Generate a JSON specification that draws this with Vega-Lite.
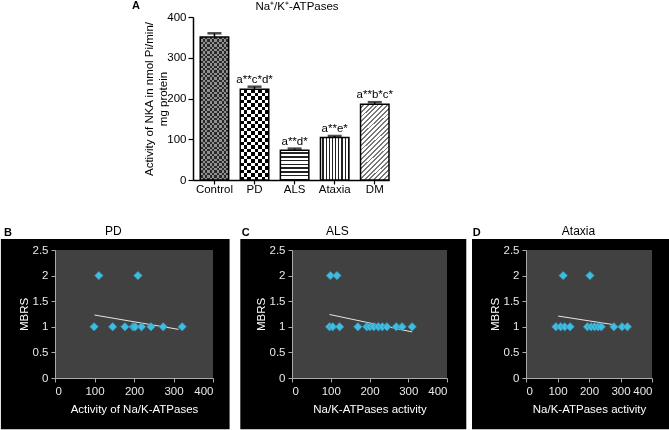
{
"$schema": "https://vega.github.io/schema/vega-lite/v6.json",
"padding": 0,
"autosize": {"type": "pad"},
"bounds": "flush",
"columns": 3,
"spacing": {"row": 70, "column": 79},
"align": "each",
"config": {
  "font": "Liberation Sans",
  "view": {"stroke": null},
  "axis": {"zindex": 1, "grid": false, "labelOverlap": false},
  "title": {"fontWeight": "normal", "fontSize": 12, "color": "#000"}
},
"datasets": {
  "bars": [
    {"group": "Control", "mean": 351, "upper": 360, "label": ""},
    {"group": "PD", "mean": 223, "upper": 229, "label": "a**c*d*"},
    {"group": "ALS", "mean": 73, "upper": 77, "label": "a**d*"},
    {"group": "Ataxia", "mean": 104, "upper": 108, "label": "a**e*"},
    {"group": "DM", "mean": 186, "upper": 191, "label": "a**b*c*"}
  ],
  "pd": [
    {"activity": 111, "mbrs": 2}, {"activity": 210, "mbrs": 2},
    {"activity": 99, "mbrs": 1}, {"activity": 146, "mbrs": 1}, {"activity": 177, "mbrs": 1},
    {"activity": 198, "mbrs": 1}, {"activity": 203, "mbrs": 1}, {"activity": 219, "mbrs": 1},
    {"activity": 243, "mbrs": 1}, {"activity": 274, "mbrs": 1}, {"activity": 322, "mbrs": 1}
  ],
  "als": [
    {"activity": 99, "mbrs": 2}, {"activity": 116, "mbrs": 2},
    {"activity": 97, "mbrs": 1}, {"activity": 105, "mbrs": 1}, {"activity": 123, "mbrs": 1},
    {"activity": 170, "mbrs": 1}, {"activity": 193, "mbrs": 1}, {"activity": 201, "mbrs": 1},
    {"activity": 211, "mbrs": 1}, {"activity": 223, "mbrs": 1}, {"activity": 233, "mbrs": 1},
    {"activity": 245, "mbrs": 1}, {"activity": 269, "mbrs": 1}, {"activity": 284, "mbrs": 1},
    {"activity": 310, "mbrs": 1}
  ],
  "ataxia": [
    {"activity": 118, "mbrs": 2}, {"activity": 203, "mbrs": 2},
    {"activity": 95, "mbrs": 1}, {"activity": 110, "mbrs": 1}, {"activity": 123, "mbrs": 1},
    {"activity": 140, "mbrs": 1}, {"activity": 195, "mbrs": 1}, {"activity": 207, "mbrs": 1},
    {"activity": 218, "mbrs": 1}, {"activity": 229, "mbrs": 1}, {"activity": 239, "mbrs": 1},
    {"activity": 279, "mbrs": 1}, {"activity": 305, "mbrs": 1}, {"activity": 322, "mbrs": 1}
  ],
  "trends": [
    {"panel": "PD", "activity": 100, "mbrs": 1.23}, {"panel": "PD", "activity": 313, "mbrs": 0.95},
    {"panel": "ALS", "activity": 97, "mbrs": 1.24}, {"panel": "ALS", "activity": 310, "mbrs": 0.9},
    {"panel": "Ataxia", "activity": 102, "mbrs": 1.21}, {"panel": "Ataxia", "activity": 280, "mbrs": 1.04}
  ]
},
"concat": [
  {
    "width": 158, "height": 163,
    "data": {"name": "bars"},
    "title": {"text": "Na⁺/K⁺-ATPases", "frame": "group", "anchor": "middle", "dx": 163, "offset": -1, "fontSize": 11.5},
    "encoding": {
      "x": {"field": "group", "type": "nominal", "sort": null,
        "scale": {"range": [138, 334], "paddingInner": 0.29, "paddingOuter": 0.09, "align": 1},
        "axis": {"title": null, "labelAngle": 0, "labelFontSize": 11.5, "labelColor": "#000", "domainColor": "#000", "domainWidth": 1.5, "tickColor": "#000", "tickSize": 4, "tickWidth": 1.2, "labelPadding": -1}},
      "y": {"field": "mean", "type": "quantitative", "scale": {"domain": [0, 400]},
        "axis": {"offset": -138, "values": [0, 100, 200, 300, 400], "title": ["Activity of NKA in nmol Pi/min/", "mg protein"], "titleFontSize": 11.5, "titleFontWeight": "normal", "titleColor": "#000", "titlePadding": -2, "titleLineHeight": 14, "labelFontSize": 11.5, "labelColor": "#000", "domainColor": "#000", "domainWidth": 1.5, "tickColor": "#000", "tickSize": 5, "tickWidth": 1.2, "labelPadding": 2}}
    },
    "layer": [
      {"transform": [{"filter": "datum.group === 'Control'"}], "mark": {"type": "bar", "fill": "#2a2a2a"}},
      {"transform": [{"filter": "datum.group === 'Control'"}], "mark": {"type": "bar", "blend": "difference", "fill": {"gradient": "linear", "x1": 0, "y1": 0, "x2": 1, "y2": 0, "stops": [
        {"offset":0,"color":"#bbb"},{"offset":0.0833,"color":"#bbb"},{"offset":0.0833,"color":"transparent"},{"offset":0.1667,"color":"transparent"},{"offset":0.1667,"color":"#bbb"},{"offset":0.25,"color":"#bbb"},{"offset":0.25,"color":"transparent"},{"offset":0.3333,"color":"transparent"},{"offset":0.3333,"color":"#bbb"},{"offset":0.4167,"color":"#bbb"},{"offset":0.4167,"color":"transparent"},{"offset":0.5,"color":"transparent"},{"offset":0.5,"color":"#bbb"},{"offset":0.5833,"color":"#bbb"},{"offset":0.5833,"color":"transparent"},{"offset":0.6667,"color":"transparent"},{"offset":0.6667,"color":"#bbb"},{"offset":0.75,"color":"#bbb"},{"offset":0.75,"color":"transparent"},{"offset":0.8333,"color":"transparent"},{"offset":0.8333,"color":"#bbb"},{"offset":0.9167,"color":"#bbb"},{"offset":0.9167,"color":"transparent"},{"offset":1,"color":"transparent"}]}}},
      {"transform": [{"filter": "datum.group === 'Control'"}], "mark": {"type": "bar", "blend": "difference", "fill": {"gradient": "linear", "x1": 0, "y1": 0, "x2": 0, "y2": 1, "stops": [
        {"offset":0,"color":"#bbb"},{"offset":0.0167,"color":"#bbb"},{"offset":0.0167,"color":"transparent"},{"offset":0.0333,"color":"transparent"},{"offset":0.0333,"color":"#bbb"},{"offset":0.05,"color":"#bbb"},{"offset":0.05,"color":"transparent"},{"offset":0.0667,"color":"transparent"},{"offset":0.0667,"color":"#bbb"},{"offset":0.0833,"color":"#bbb"},{"offset":0.0833,"color":"transparent"},{"offset":0.1,"color":"transparent"},{"offset":0.1,"color":"#bbb"},{"offset":0.1167,"color":"#bbb"},{"offset":0.1167,"color":"transparent"},{"offset":0.1333,"color":"transparent"},{"offset":0.1333,"color":"#bbb"},{"offset":0.15,"color":"#bbb"},{"offset":0.15,"color":"transparent"},{"offset":0.1667,"color":"transparent"},{"offset":0.1667,"color":"#bbb"},{"offset":0.1833,"color":"#bbb"},{"offset":0.1833,"color":"transparent"},{"offset":0.2,"color":"transparent"},{"offset":0.2,"color":"#bbb"},{"offset":0.2167,"color":"#bbb"},{"offset":0.2167,"color":"transparent"},{"offset":0.2333,"color":"transparent"},{"offset":0.2333,"color":"#bbb"},{"offset":0.25,"color":"#bbb"},{"offset":0.25,"color":"transparent"},{"offset":0.2667,"color":"transparent"},{"offset":0.2667,"color":"#bbb"},{"offset":0.2833,"color":"#bbb"},{"offset":0.2833,"color":"transparent"},{"offset":0.3,"color":"transparent"},{"offset":0.3,"color":"#bbb"},{"offset":0.3167,"color":"#bbb"},{"offset":0.3167,"color":"transparent"},{"offset":0.3333,"color":"transparent"},{"offset":0.3333,"color":"#bbb"},{"offset":0.35,"color":"#bbb"},{"offset":0.35,"color":"transparent"},{"offset":0.3667,"color":"transparent"},{"offset":0.3667,"color":"#bbb"},{"offset":0.3833,"color":"#bbb"},{"offset":0.3833,"color":"transparent"},{"offset":0.4,"color":"transparent"},{"offset":0.4,"color":"#bbb"},{"offset":0.4167,"color":"#bbb"},{"offset":0.4167,"color":"transparent"},{"offset":0.4333,"color":"transparent"},{"offset":0.4333,"color":"#bbb"},{"offset":0.45,"color":"#bbb"},{"offset":0.45,"color":"transparent"},{"offset":0.4667,"color":"transparent"},{"offset":0.4667,"color":"#bbb"},{"offset":0.4833,"color":"#bbb"},{"offset":0.4833,"color":"transparent"},{"offset":0.5,"color":"transparent"},{"offset":0.5,"color":"#bbb"},{"offset":0.5167,"color":"#bbb"},{"offset":0.5167,"color":"transparent"},{"offset":0.5333,"color":"transparent"},{"offset":0.5333,"color":"#bbb"},{"offset":0.55,"color":"#bbb"},{"offset":0.55,"color":"transparent"},{"offset":0.5667,"color":"transparent"},{"offset":0.5667,"color":"#bbb"},{"offset":0.5833,"color":"#bbb"},{"offset":0.5833,"color":"transparent"},{"offset":0.6,"color":"transparent"},{"offset":0.6,"color":"#bbb"},{"offset":0.6167,"color":"#bbb"},{"offset":0.6167,"color":"transparent"},{"offset":0.6333,"color":"transparent"},{"offset":0.6333,"color":"#bbb"},{"offset":0.65,"color":"#bbb"},{"offset":0.65,"color":"transparent"},{"offset":0.6667,"color":"transparent"},{"offset":0.6667,"color":"#bbb"},{"offset":0.6833,"color":"#bbb"},{"offset":0.6833,"color":"transparent"},{"offset":0.7,"color":"transparent"},{"offset":0.7,"color":"#bbb"},{"offset":0.7167,"color":"#bbb"},{"offset":0.7167,"color":"transparent"},{"offset":0.7333,"color":"transparent"},{"offset":0.7333,"color":"#bbb"},{"offset":0.75,"color":"#bbb"},{"offset":0.75,"color":"transparent"},{"offset":0.7667,"color":"transparent"},{"offset":0.7667,"color":"#bbb"},{"offset":0.7833,"color":"#bbb"},{"offset":0.7833,"color":"transparent"},{"offset":0.8,"color":"transparent"},{"offset":0.8,"color":"#bbb"},{"offset":0.8167,"color":"#bbb"},{"offset":0.8167,"color":"transparent"},{"offset":0.8333,"color":"transparent"},{"offset":0.8333,"color":"#bbb"},{"offset":0.85,"color":"#bbb"},{"offset":0.85,"color":"transparent"},{"offset":0.8667,"color":"transparent"},{"offset":0.8667,"color":"#bbb"},{"offset":0.8833,"color":"#bbb"},{"offset":0.8833,"color":"transparent"},{"offset":0.9,"color":"transparent"},{"offset":0.9,"color":"#bbb"},{"offset":0.9167,"color":"#bbb"},{"offset":0.9167,"color":"transparent"},{"offset":0.9333,"color":"transparent"},{"offset":0.9333,"color":"#bbb"},{"offset":0.95,"color":"#bbb"},{"offset":0.95,"color":"transparent"},{"offset":0.9667,"color":"transparent"},{"offset":0.9667,"color":"#bbb"},{"offset":0.9833,"color":"#bbb"},{"offset":0.9833,"color":"transparent"},{"offset":1,"color":"transparent"}]}}},
      {"transform": [{"filter": "datum.group === 'PD'"}], "mark": {"type": "bar", "fill": "#fff"}},
      {"transform": [{"filter": "datum.group === 'PD'"}], "mark": {"type": "bar", "blend": "difference", "fill": {"gradient": "linear", "x1": 0, "y1": 0, "x2": 1, "y2": 0, "stops": [
        {"offset":0,"color":"#fff"},{"offset":0.125,"color":"#fff"},{"offset":0.125,"color":"transparent"},{"offset":0.25,"color":"transparent"},{"offset":0.25,"color":"#fff"},{"offset":0.375,"color":"#fff"},{"offset":0.375,"color":"transparent"},{"offset":0.5,"color":"transparent"},{"offset":0.5,"color":"#fff"},{"offset":0.625,"color":"#fff"},{"offset":0.625,"color":"transparent"},{"offset":0.75,"color":"transparent"},{"offset":0.75,"color":"#fff"},{"offset":0.875,"color":"#fff"},{"offset":0.875,"color":"transparent"},{"offset":1,"color":"transparent"}]}}},
      {"transform": [{"filter": "datum.group === 'PD'"}], "mark": {"type": "bar", "blend": "difference", "fill": {"gradient": "linear", "x1": 0, "y1": 0, "x2": 0, "y2": 1, "stops": [
        {"offset":0,"color":"#fff"},{"offset":0.0385,"color":"#fff"},{"offset":0.0385,"color":"transparent"},{"offset":0.0769,"color":"transparent"},{"offset":0.0769,"color":"#fff"},{"offset":0.1154,"color":"#fff"},{"offset":0.1154,"color":"transparent"},{"offset":0.1538,"color":"transparent"},{"offset":0.1538,"color":"#fff"},{"offset":0.1923,"color":"#fff"},{"offset":0.1923,"color":"transparent"},{"offset":0.2308,"color":"transparent"},{"offset":0.2308,"color":"#fff"},{"offset":0.2692,"color":"#fff"},{"offset":0.2692,"color":"transparent"},{"offset":0.3077,"color":"transparent"},{"offset":0.3077,"color":"#fff"},{"offset":0.3462,"color":"#fff"},{"offset":0.3462,"color":"transparent"},{"offset":0.3846,"color":"transparent"},{"offset":0.3846,"color":"#fff"},{"offset":0.4231,"color":"#fff"},{"offset":0.4231,"color":"transparent"},{"offset":0.4615,"color":"transparent"},{"offset":0.4615,"color":"#fff"},{"offset":0.5,"color":"#fff"},{"offset":0.5,"color":"transparent"},{"offset":0.5385,"color":"transparent"},{"offset":0.5385,"color":"#fff"},{"offset":0.5769,"color":"#fff"},{"offset":0.5769,"color":"transparent"},{"offset":0.6154,"color":"transparent"},{"offset":0.6154,"color":"#fff"},{"offset":0.6538,"color":"#fff"},{"offset":0.6538,"color":"transparent"},{"offset":0.6923,"color":"transparent"},{"offset":0.6923,"color":"#fff"},{"offset":0.7308,"color":"#fff"},{"offset":0.7308,"color":"transparent"},{"offset":0.7692,"color":"transparent"},{"offset":0.7692,"color":"#fff"},{"offset":0.8077,"color":"#fff"},{"offset":0.8077,"color":"transparent"},{"offset":0.8462,"color":"transparent"},{"offset":0.8462,"color":"#fff"},{"offset":0.8846,"color":"#fff"},{"offset":0.8846,"color":"transparent"},{"offset":0.9231,"color":"transparent"},{"offset":0.9231,"color":"#fff"},{"offset":0.9615,"color":"#fff"},{"offset":0.9615,"color":"transparent"},{"offset":1,"color":"transparent"}]}}},
      {"transform": [{"filter": "datum.group === 'ALS'"}], "mark": {"type": "bar", "fill": {"gradient": "linear", "x1": 0, "y1": 0, "x2": 0, "y2": 1, "stops": [
        {"offset":0,"color":"#fff"},{"offset":0.075,"color":"#fff"},{"offset":0.075,"color":"#222"},{"offset":0.125,"color":"#222"},{"offset":0.125,"color":"#fff"},{"offset":0.2,"color":"#fff"},{"offset":0.2,"color":"#222"},{"offset":0.25,"color":"#222"},{"offset":0.25,"color":"#fff"},{"offset":0.325,"color":"#fff"},{"offset":0.325,"color":"#222"},{"offset":0.375,"color":"#222"},{"offset":0.375,"color":"#fff"},{"offset":0.45,"color":"#fff"},{"offset":0.45,"color":"#222"},{"offset":0.5,"color":"#222"},{"offset":0.5,"color":"#fff"},{"offset":0.575,"color":"#fff"},{"offset":0.575,"color":"#222"},{"offset":0.625,"color":"#222"},{"offset":0.625,"color":"#fff"},{"offset":0.7,"color":"#fff"},{"offset":0.7,"color":"#222"},{"offset":0.75,"color":"#222"},{"offset":0.75,"color":"#fff"},{"offset":0.825,"color":"#fff"},{"offset":0.825,"color":"#222"},{"offset":0.875,"color":"#222"},{"offset":0.875,"color":"#fff"},{"offset":0.95,"color":"#fff"},{"offset":0.95,"color":"#222"},{"offset":1,"color":"#222"}]}}},
      {"transform": [{"filter": "datum.group === 'Ataxia'"}], "mark": {"type": "bar", "fill": {"gradient": "linear", "x1": 0, "y1": 0, "x2": 1, "y2": 0, "stops": [
        {"offset":0,"color":"#fff"},{"offset":0.07,"color":"#fff"},{"offset":0.07,"color":"#222"},{"offset":0.1111,"color":"#222"},{"offset":0.1111,"color":"#fff"},{"offset":0.1811,"color":"#fff"},{"offset":0.1811,"color":"#222"},{"offset":0.2222,"color":"#222"},{"offset":0.2222,"color":"#fff"},{"offset":0.2922,"color":"#fff"},{"offset":0.2922,"color":"#222"},{"offset":0.3333,"color":"#222"},{"offset":0.3333,"color":"#fff"},{"offset":0.4033,"color":"#fff"},{"offset":0.4033,"color":"#222"},{"offset":0.4444,"color":"#222"},{"offset":0.4444,"color":"#fff"},{"offset":0.5144,"color":"#fff"},{"offset":0.5144,"color":"#222"},{"offset":0.5556,"color":"#222"},{"offset":0.5556,"color":"#fff"},{"offset":0.6256,"color":"#fff"},{"offset":0.6256,"color":"#222"},{"offset":0.6667,"color":"#222"},{"offset":0.6667,"color":"#fff"},{"offset":0.7367,"color":"#fff"},{"offset":0.7367,"color":"#222"},{"offset":0.7778,"color":"#222"},{"offset":0.7778,"color":"#fff"},{"offset":0.8478,"color":"#fff"},{"offset":0.8478,"color":"#222"},{"offset":0.8889,"color":"#222"},{"offset":0.8889,"color":"#fff"},{"offset":0.9589,"color":"#fff"},{"offset":0.9589,"color":"#222"},{"offset":1,"color":"#222"}]}}},
      {"transform": [{"filter": "datum.group === 'DM'"}], "mark": {"type": "bar", "fill": {"gradient": "linear", "x1": 0, "y1": 0, "x2": 0.444, "y2": 1.205, "stops": [
        {"offset":0,"color":"#fff"},{"offset":0.0273,"color":"#fff"},{"offset":0.0273,"color":"#777"},{"offset":0.0455,"color":"#777"},{"offset":0.0455,"color":"#fff"},{"offset":0.0727,"color":"#fff"},{"offset":0.0727,"color":"#777"},{"offset":0.0909,"color":"#777"},{"offset":0.0909,"color":"#fff"},{"offset":0.1182,"color":"#fff"},{"offset":0.1182,"color":"#777"},{"offset":0.1364,"color":"#777"},{"offset":0.1364,"color":"#fff"},{"offset":0.1636,"color":"#fff"},{"offset":0.1636,"color":"#777"},{"offset":0.1818,"color":"#777"},{"offset":0.1818,"color":"#fff"},{"offset":0.2091,"color":"#fff"},{"offset":0.2091,"color":"#777"},{"offset":0.2273,"color":"#777"},{"offset":0.2273,"color":"#fff"},{"offset":0.2545,"color":"#fff"},{"offset":0.2545,"color":"#777"},{"offset":0.2727,"color":"#777"},{"offset":0.2727,"color":"#fff"},{"offset":0.3,"color":"#fff"},{"offset":0.3,"color":"#777"},{"offset":0.3182,"color":"#777"},{"offset":0.3182,"color":"#fff"},{"offset":0.3455,"color":"#fff"},{"offset":0.3455,"color":"#777"},{"offset":0.3636,"color":"#777"},{"offset":0.3636,"color":"#fff"},{"offset":0.3909,"color":"#fff"},{"offset":0.3909,"color":"#777"},{"offset":0.4091,"color":"#777"},{"offset":0.4091,"color":"#fff"},{"offset":0.4364,"color":"#fff"},{"offset":0.4364,"color":"#777"},{"offset":0.4545,"color":"#777"},{"offset":0.4545,"color":"#fff"},{"offset":0.4818,"color":"#fff"},{"offset":0.4818,"color":"#777"},{"offset":0.5,"color":"#777"},{"offset":0.5,"color":"#fff"},{"offset":0.5273,"color":"#fff"},{"offset":0.5273,"color":"#777"},{"offset":0.5455,"color":"#777"},{"offset":0.5455,"color":"#fff"},{"offset":0.5727,"color":"#fff"},{"offset":0.5727,"color":"#777"},{"offset":0.5909,"color":"#777"},{"offset":0.5909,"color":"#fff"},{"offset":0.6182,"color":"#fff"},{"offset":0.6182,"color":"#777"},{"offset":0.6364,"color":"#777"},{"offset":0.6364,"color":"#fff"},{"offset":0.6636,"color":"#fff"},{"offset":0.6636,"color":"#777"},{"offset":0.6818,"color":"#777"},{"offset":0.6818,"color":"#fff"},{"offset":0.7091,"color":"#fff"},{"offset":0.7091,"color":"#777"},{"offset":0.7273,"color":"#777"},{"offset":0.7273,"color":"#fff"},{"offset":0.7545,"color":"#fff"},{"offset":0.7545,"color":"#777"},{"offset":0.7727,"color":"#777"},{"offset":0.7727,"color":"#fff"},{"offset":0.8,"color":"#fff"},{"offset":0.8,"color":"#777"},{"offset":0.8182,"color":"#777"},{"offset":0.8182,"color":"#fff"},{"offset":0.8455,"color":"#fff"},{"offset":0.8455,"color":"#777"},{"offset":0.8636,"color":"#777"},{"offset":0.8636,"color":"#fff"},{"offset":0.8909,"color":"#fff"},{"offset":0.8909,"color":"#777"},{"offset":0.9091,"color":"#777"},{"offset":0.9091,"color":"#fff"},{"offset":0.9364,"color":"#fff"},{"offset":0.9364,"color":"#777"},{"offset":0.9545,"color":"#777"},{"offset":0.9545,"color":"#fff"},{"offset":0.9818,"color":"#fff"},{"offset":0.9818,"color":"#777"},{"offset":1,"color":"#777"}]}}},
      {"mark": {"type": "bar", "fillOpacity": 0, "stroke": "#000", "strokeWidth": 1.5}},
      {"mark": {"type": "rule", "stroke": "#000", "strokeWidth": 1.5}, "encoding": {"y": {"field": "mean", "type": "quantitative"}, "y2": {"field": "upper"}}},
      {"mark": {"type": "tick", "orient": "horizontal", "size": 14, "thickness": 2.5, "color": "#000"}, "encoding": {"y": {"field": "upper", "type": "quantitative"}}},
      {"mark": {"type": "text", "baseline": "alphabetic", "dy": -4, "fontSize": 11.5, "color": "#000"}, "encoding": {"y": {"field": "upper", "type": "quantitative"}, "text": {"field": "label"}}}
    ]
  },
  {
    "width": 155, "height": 10,
    "data": {"values": [{}]},
    "mark": {"type": "point", "opacity": 0},
    "title": {"text": "A", "anchor": "start", "frame": "group", "dx": -160, "offset": 6, "fontWeight": "bold", "fontSize": 11}
  },
  {
    "width": 126, "height": 10,
    "data": {"values": [{}]},
    "mark": {"type": "point", "opacity": 0}
  },
  {
    "width": 158, "height": 128,
    "title": {"text": "PD", "frame": "bounds", "anchor": "middle", "dx": -2, "offset": -11, "fontSize": 12},
    "layer": [
      {"data": {"values": [{}]}, "mark": {"type": "rect", "fill": "#000", "clip": false},
       "encoding": {
         "x": {"datum": -137, "type": "quantitative", "scale": {"domain": [0, 400], "nice": false, "zero": false}, "axis": {"title": "Activity of Na/K-ATPases", "zindex": 1, "values": [0, 100, 200, 300, 400], "labelOverlap": false, "labelColor": "#e8e8e8", "labelFontSize": 11.5, "domainColor": "#aaa", "tickColor": "#aaa", "tickSize": 4, "labelPadding": 3, "titleColor": "#fff", "titleFontSize": 11.5, "titleFontWeight": "normal", "titlePadding": 7}},
         "x2": {"datum": 442},
         "y": {"datum": 2.715, "type": "quantitative", "scale": {"domain": [0, 2.5], "nice": false, "zero": false}, "axis": {"title": "MBRS", "zindex": 1, "values": [0, 0.5, 1, 1.5, 2, 2.5], "format": "~g", "labelOverlap": false, "labelColor": "#e8e8e8", "labelFontSize": 11.5, "domainColor": "#aaa", "tickColor": "#aaa", "tickSize": 4, "labelPadding": 3, "titleColor": "#fff", "titleFontSize": 11.5, "titleFontWeight": "normal", "titlePadding": 3}},
         "y2": {"datum": -1.0}}},
      {"data": {"values": [{}]}, "mark": {"type": "rect", "fill": "#414141"},
       "encoding": {
         "x": {"datum": 0, "type": "quantitative", "axis": {"title": "Activity of Na/K-ATPases", "zindex": 1, "values": [0, 100, 200, 300, 400], "labelOverlap": false, "labelColor": "#e8e8e8", "labelFontSize": 11.5, "domainColor": "#aaa", "tickColor": "#aaa", "tickSize": 4, "labelPadding": 3, "titleColor": "#fff", "titleFontSize": 11.5, "titleFontWeight": "normal", "titlePadding": 7}},
         "x2": {"datum": 400},
         "y": {"datum": 0, "type": "quantitative", "axis": {"title": "MBRS", "zindex": 1, "values": [0, 0.5, 1, 1.5, 2, 2.5], "format": "~g", "labelOverlap": false, "labelColor": "#e8e8e8", "labelFontSize": 11.5, "domainColor": "#aaa", "tickColor": "#aaa", "tickSize": 4, "labelPadding": 3, "titleColor": "#fff", "titleFontSize": 11.5, "titleFontWeight": "normal", "titlePadding": 3}},
         "y2": {"datum": 2.5}}},
      {"data": {"name": "trends"}, "transform": [{"filter": "datum.panel === 'PD'"}], "mark": {"type": "line", "color": "#e6e6e6", "strokeWidth": 1},
       "encoding": {
         "x": {"field": "activity", "type": "quantitative", "axis": {"title": "Activity of Na/K-ATPases", "zindex": 1, "values": [0, 100, 200, 300, 400], "labelOverlap": false, "labelColor": "#e8e8e8", "labelFontSize": 11.5, "domainColor": "#aaa", "tickColor": "#aaa", "tickSize": 4, "labelPadding": 3, "titleColor": "#fff", "titleFontSize": 11.5, "titleFontWeight": "normal", "titlePadding": 7}},
         "y": {"field": "mbrs", "type": "quantitative", "axis": {"title": "MBRS", "zindex": 1, "values": [0, 0.5, 1, 1.5, 2, 2.5], "format": "~g", "labelOverlap": false, "labelColor": "#e8e8e8", "labelFontSize": 11.5, "domainColor": "#aaa", "tickColor": "#aaa", "tickSize": 4, "labelPadding": 3, "titleColor": "#fff", "titleFontSize": 11.5, "titleFontWeight": "normal", "titlePadding": 3}}}},
      {"data": {"name": "pd"}, "mark": {"type": "point", "shape": "diamond", "filled": true, "size": 70, "fill": "#42bbde", "stroke": "#2d93b5", "strokeWidth": 0.8, "opacity": 1},
       "encoding": {
         "x": {"field": "activity", "type": "quantitative", "axis": {"title": "Activity of Na/K-ATPases", "zindex": 1, "values": [0, 100, 200, 300, 400], "labelOverlap": false, "labelColor": "#e8e8e8", "labelFontSize": 11.5, "domainColor": "#aaa", "tickColor": "#aaa", "tickSize": 4, "labelPadding": 3, "titleColor": "#fff", "titleFontSize": 11.5, "titleFontWeight": "normal", "titlePadding": 7}},
         "y": {"field": "mbrs", "type": "quantitative", "axis": {"title": "MBRS", "zindex": 1, "values": [0, 0.5, 1, 1.5, 2, 2.5], "format": "~g", "labelOverlap": false, "labelColor": "#e8e8e8", "labelFontSize": 11.5, "domainColor": "#aaa", "tickColor": "#aaa", "tickSize": 4, "labelPadding": 3, "titleColor": "#fff", "titleFontSize": 11.5, "titleFontWeight": "normal", "titlePadding": 3}}}},
      {"data": {"values": [{}]}, "mark": {"type": "text", "text": "B", "align": "left", "baseline": "alphabetic", "fontWeight": "bold", "fontSize": 11, "color": "#000"},
       "encoding": {
         "x": {"datum": -129, "type": "quantitative", "axis": {"title": "Activity of Na/K-ATPases", "zindex": 1, "values": [0, 100, 200, 300, 400], "labelOverlap": false, "labelColor": "#e8e8e8", "labelFontSize": 11.5, "domainColor": "#aaa", "tickColor": "#aaa", "tickSize": 4, "labelPadding": 3, "titleColor": "#fff", "titleFontSize": 11.5, "titleFontWeight": "normal", "titlePadding": 7}},
         "y": {"datum": 2.78, "type": "quantitative", "axis": {"title": "MBRS", "zindex": 1, "values": [0, 0.5, 1, 1.5, 2, 2.5], "format": "~g", "labelOverlap": false, "labelColor": "#e8e8e8", "labelFontSize": 11.5, "domainColor": "#aaa", "tickColor": "#aaa", "tickSize": 4, "labelPadding": 3, "titleColor": "#fff", "titleFontSize": 11.5, "titleFontWeight": "normal", "titlePadding": 3}}}}
    ]
  },
  {
    "width": 155, "height": 128,
    "title": {"text": "ALS", "frame": "bounds", "anchor": "middle", "dx": -16, "offset": -11, "fontSize": 12},
    "layer": [
      {"data": {"values": [{}]}, "mark": {"type": "rect", "fill": "#000", "clip": false},
       "encoding": {
         "x": {"datum": -133.4, "type": "quantitative", "scale": {"domain": [0, 400], "nice": false, "zero": false}, "axis": {"title": "Na/K-ATPases activity", "zindex": 1, "values": [0, 100, 200, 300, 400], "labelOverlap": false, "labelColor": "#e8e8e8", "labelFontSize": 11.5, "domainColor": "#aaa", "tickColor": "#aaa", "tickSize": 4, "labelPadding": 3, "titleColor": "#fff", "titleFontSize": 11.5, "titleFontWeight": "normal", "titlePadding": 7}},
         "x2": {"datum": 449.8},
         "y": {"datum": 2.715, "type": "quantitative", "scale": {"domain": [0, 2.5], "nice": false, "zero": false}, "axis": {"title": "MBRS", "zindex": 1, "values": [0, 0.5, 1, 1.5, 2, 2.5], "format": "~g", "labelOverlap": false, "labelColor": "#e8e8e8", "labelFontSize": 11.5, "domainColor": "#aaa", "tickColor": "#aaa", "tickSize": 4, "labelPadding": 3, "titleColor": "#fff", "titleFontSize": 11.5, "titleFontWeight": "normal", "titlePadding": 3}},
         "y2": {"datum": -1.0}}},
      {"data": {"values": [{}]}, "mark": {"type": "rect", "fill": "#414141"},
       "encoding": {
         "x": {"datum": 0, "type": "quantitative", "axis": {"title": "Na/K-ATPases activity", "zindex": 1, "values": [0, 100, 200, 300, 400], "labelOverlap": false, "labelColor": "#e8e8e8", "labelFontSize": 11.5, "domainColor": "#aaa", "tickColor": "#aaa", "tickSize": 4, "labelPadding": 3, "titleColor": "#fff", "titleFontSize": 11.5, "titleFontWeight": "normal", "titlePadding": 7}},
         "x2": {"datum": 400},
         "y": {"datum": 0, "type": "quantitative", "axis": {"title": "MBRS", "zindex": 1, "values": [0, 0.5, 1, 1.5, 2, 2.5], "format": "~g", "labelOverlap": false, "labelColor": "#e8e8e8", "labelFontSize": 11.5, "domainColor": "#aaa", "tickColor": "#aaa", "tickSize": 4, "labelPadding": 3, "titleColor": "#fff", "titleFontSize": 11.5, "titleFontWeight": "normal", "titlePadding": 3}},
         "y2": {"datum": 2.5}}},
      {"data": {"name": "trends"}, "transform": [{"filter": "datum.panel === 'ALS'"}], "mark": {"type": "line", "color": "#e6e6e6", "strokeWidth": 1},
       "encoding": {
         "x": {"field": "activity", "type": "quantitative", "axis": {"title": "Na/K-ATPases activity", "zindex": 1, "values": [0, 100, 200, 300, 400], "labelOverlap": false, "labelColor": "#e8e8e8", "labelFontSize": 11.5, "domainColor": "#aaa", "tickColor": "#aaa", "tickSize": 4, "labelPadding": 3, "titleColor": "#fff", "titleFontSize": 11.5, "titleFontWeight": "normal", "titlePadding": 7}},
         "y": {"field": "mbrs", "type": "quantitative", "axis": {"title": "MBRS", "zindex": 1, "values": [0, 0.5, 1, 1.5, 2, 2.5], "format": "~g", "labelOverlap": false, "labelColor": "#e8e8e8", "labelFontSize": 11.5, "domainColor": "#aaa", "tickColor": "#aaa", "tickSize": 4, "labelPadding": 3, "titleColor": "#fff", "titleFontSize": 11.5, "titleFontWeight": "normal", "titlePadding": 3}}}},
      {"data": {"name": "als"}, "mark": {"type": "point", "shape": "diamond", "filled": true, "size": 70, "fill": "#42bbde", "stroke": "#2d93b5", "strokeWidth": 0.8, "opacity": 1},
       "encoding": {
         "x": {"field": "activity", "type": "quantitative", "axis": {"title": "Na/K-ATPases activity", "zindex": 1, "values": [0, 100, 200, 300, 400], "labelOverlap": false, "labelColor": "#e8e8e8", "labelFontSize": 11.5, "domainColor": "#aaa", "tickColor": "#aaa", "tickSize": 4, "labelPadding": 3, "titleColor": "#fff", "titleFontSize": 11.5, "titleFontWeight": "normal", "titlePadding": 7}},
         "y": {"field": "mbrs", "type": "quantitative", "axis": {"title": "MBRS", "zindex": 1, "values": [0, 0.5, 1, 1.5, 2, 2.5], "format": "~g", "labelOverlap": false, "labelColor": "#e8e8e8", "labelFontSize": 11.5, "domainColor": "#aaa", "tickColor": "#aaa", "tickSize": 4, "labelPadding": 3, "titleColor": "#fff", "titleFontSize": 11.5, "titleFontWeight": "normal", "titlePadding": 3}}}},
      {"data": {"values": [{}]}, "mark": {"type": "text", "text": "C", "align": "left", "baseline": "alphabetic", "fontWeight": "bold", "fontSize": 11, "color": "#000"},
       "encoding": {
         "x": {"datum": -129.8, "type": "quantitative", "axis": {"title": "Na/K-ATPases activity", "zindex": 1, "values": [0, 100, 200, 300, 400], "labelOverlap": false, "labelColor": "#e8e8e8", "labelFontSize": 11.5, "domainColor": "#aaa", "tickColor": "#aaa", "tickSize": 4, "labelPadding": 3, "titleColor": "#fff", "titleFontSize": 11.5, "titleFontWeight": "normal", "titlePadding": 7}},
         "y": {"datum": 2.78, "type": "quantitative", "axis": {"title": "MBRS", "zindex": 1, "values": [0, 0.5, 1, 1.5, 2, 2.5], "format": "~g", "labelOverlap": false, "labelColor": "#e8e8e8", "labelFontSize": 11.5, "domainColor": "#aaa", "tickColor": "#aaa", "tickSize": 4, "labelPadding": 3, "titleColor": "#fff", "titleFontSize": 11.5, "titleFontWeight": "normal", "titlePadding": 3}}}}
    ]
  },
  {
    "width": 126, "height": 128,
    "title": {"text": "Ataxia", "frame": "bounds", "anchor": "middle", "dx": 8, "offset": -11, "fontSize": 12},
    "layer": [
      {"data": {"values": [{}]}, "mark": {"type": "rect", "fill": "#000", "clip": false},
       "encoding": {
         "x": {"datum": -171.4, "type": "quantitative", "scale": {"domain": [0, 400], "nice": false, "zero": false}, "axis": {"title": "Na/K-ATPases activity", "zindex": 1, "values": [0, 100, 200, 300, 400], "labelOverlap": false, "labelColor": "#e8e8e8", "labelFontSize": 11.5, "domainColor": "#aaa", "tickColor": "#aaa", "tickSize": 4, "labelPadding": 3, "titleColor": "#fff", "titleFontSize": 11.5, "titleFontWeight": "normal", "titlePadding": 7}},
         "x2": {"datum": 454},
         "y": {"datum": 2.715, "type": "quantitative", "scale": {"domain": [0, 2.5], "nice": false, "zero": false}, "axis": {"title": "MBRS", "zindex": 1, "values": [0, 0.5, 1, 1.5, 2, 2.5], "format": "~g", "labelOverlap": false, "labelColor": "#e8e8e8", "labelFontSize": 11.5, "domainColor": "#aaa", "tickColor": "#aaa", "tickSize": 4, "labelPadding": 3, "titleColor": "#fff", "titleFontSize": 11.5, "titleFontWeight": "normal", "titlePadding": 3}},
         "y2": {"datum": -1.0}}},
      {"data": {"values": [{}]}, "mark": {"type": "rect", "fill": "#414141"},
       "encoding": {
         "x": {"datum": 0, "type": "quantitative", "axis": {"title": "Na/K-ATPases activity", "zindex": 1, "values": [0, 100, 200, 300, 400], "labelOverlap": false, "labelColor": "#e8e8e8", "labelFontSize": 11.5, "domainColor": "#aaa", "tickColor": "#aaa", "tickSize": 4, "labelPadding": 3, "titleColor": "#fff", "titleFontSize": 11.5, "titleFontWeight": "normal", "titlePadding": 7}},
         "x2": {"datum": 400},
         "y": {"datum": 0, "type": "quantitative", "axis": {"title": "MBRS", "zindex": 1, "values": [0, 0.5, 1, 1.5, 2, 2.5], "format": "~g", "labelOverlap": false, "labelColor": "#e8e8e8", "labelFontSize": 11.5, "domainColor": "#aaa", "tickColor": "#aaa", "tickSize": 4, "labelPadding": 3, "titleColor": "#fff", "titleFontSize": 11.5, "titleFontWeight": "normal", "titlePadding": 3}},
         "y2": {"datum": 2.5}}},
      {"data": {"name": "trends"}, "transform": [{"filter": "datum.panel === 'Ataxia'"}], "mark": {"type": "line", "color": "#e6e6e6", "strokeWidth": 1},
       "encoding": {
         "x": {"field": "activity", "type": "quantitative", "axis": {"title": "Na/K-ATPases activity", "zindex": 1, "values": [0, 100, 200, 300, 400], "labelOverlap": false, "labelColor": "#e8e8e8", "labelFontSize": 11.5, "domainColor": "#aaa", "tickColor": "#aaa", "tickSize": 4, "labelPadding": 3, "titleColor": "#fff", "titleFontSize": 11.5, "titleFontWeight": "normal", "titlePadding": 7}},
         "y": {"field": "mbrs", "type": "quantitative", "axis": {"title": "MBRS", "zindex": 1, "values": [0, 0.5, 1, 1.5, 2, 2.5], "format": "~g", "labelOverlap": false, "labelColor": "#e8e8e8", "labelFontSize": 11.5, "domainColor": "#aaa", "tickColor": "#aaa", "tickSize": 4, "labelPadding": 3, "titleColor": "#fff", "titleFontSize": 11.5, "titleFontWeight": "normal", "titlePadding": 3}}}},
      {"data": {"name": "ataxia"}, "mark": {"type": "point", "shape": "diamond", "filled": true, "size": 70, "fill": "#42bbde", "stroke": "#2d93b5", "strokeWidth": 0.8, "opacity": 1},
       "encoding": {
         "x": {"field": "activity", "type": "quantitative", "axis": {"title": "Na/K-ATPases activity", "zindex": 1, "values": [0, 100, 200, 300, 400], "labelOverlap": false, "labelColor": "#e8e8e8", "labelFontSize": 11.5, "domainColor": "#aaa", "tickColor": "#aaa", "tickSize": 4, "labelPadding": 3, "titleColor": "#fff", "titleFontSize": 11.5, "titleFontWeight": "normal", "titlePadding": 7}},
         "y": {"field": "mbrs", "type": "quantitative", "axis": {"title": "MBRS", "zindex": 1, "values": [0, 0.5, 1, 1.5, 2, 2.5], "format": "~g", "labelOverlap": false, "labelColor": "#e8e8e8", "labelFontSize": 11.5, "domainColor": "#aaa", "tickColor": "#aaa", "tickSize": 4, "labelPadding": 3, "titleColor": "#fff", "titleFontSize": 11.5, "titleFontWeight": "normal", "titlePadding": 3}}}},
      {"data": {"values": [{}]}, "mark": {"type": "text", "text": "D", "align": "left", "baseline": "alphabetic", "fontWeight": "bold", "fontSize": 11, "color": "#000"},
       "encoding": {
         "x": {"datum": -169.2, "type": "quantitative", "axis": {"title": "Na/K-ATPases activity", "zindex": 1, "values": [0, 100, 200, 300, 400], "labelOverlap": false, "labelColor": "#e8e8e8", "labelFontSize": 11.5, "domainColor": "#aaa", "tickColor": "#aaa", "tickSize": 4, "labelPadding": 3, "titleColor": "#fff", "titleFontSize": 11.5, "titleFontWeight": "normal", "titlePadding": 7}},
         "y": {"datum": 2.78, "type": "quantitative", "axis": {"title": "MBRS", "zindex": 1, "values": [0, 0.5, 1, 1.5, 2, 2.5], "format": "~g", "labelOverlap": false, "labelColor": "#e8e8e8", "labelFontSize": 11.5, "domainColor": "#aaa", "tickColor": "#aaa", "tickSize": 4, "labelPadding": 3, "titleColor": "#fff", "titleFontSize": 11.5, "titleFontWeight": "normal", "titlePadding": 3}}}}
    ]
  }
]
}
